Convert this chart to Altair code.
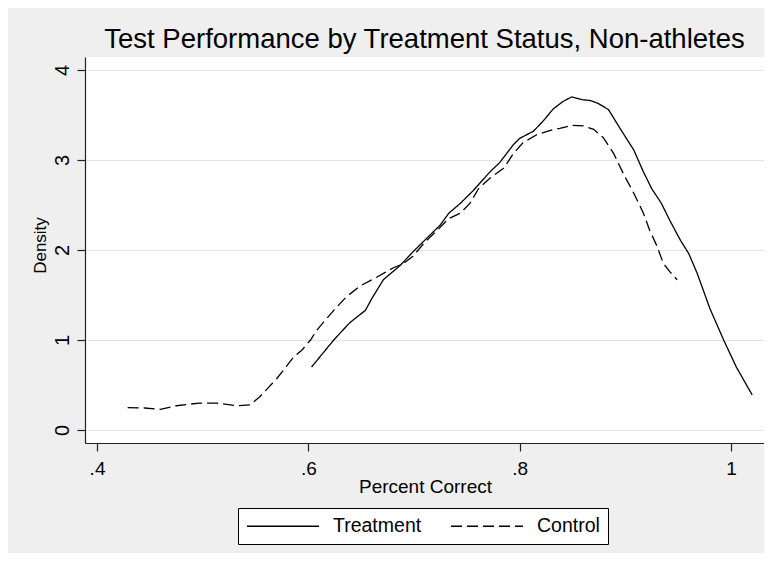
import altair as alt
import pandas as pd

# Kernel density curves
treat_x = [0.603, 0.624, 0.639, 0.654, 0.660, 0.671, 0.687, 0.699, 0.712, 0.725,
           0.733, 0.744, 0.756, 0.772, 0.781, 0.794, 0.800, 0.813, 0.822, 0.832,
           0.841, 0.849, 0.859, 0.867, 0.874, 0.884, 0.895, 0.908, 0.917, 0.925,
           0.934, 0.942, 0.952, 0.960, 0.968, 0.980, 0.993, 1.005, 1.020]
treat_y = [0.70, 1.00, 1.19, 1.33, 1.46, 1.67, 1.83, 1.98, 2.13, 2.28,
           2.41, 2.52, 2.66, 2.87, 2.97, 3.17, 3.24, 3.32, 3.43, 3.57,
           3.65, 3.70, 3.67, 3.66, 3.63, 3.56, 3.35, 3.11, 2.87, 2.68,
           2.52, 2.33, 2.11, 1.96, 1.74, 1.35, 1.00, 0.70, 0.39]

ctrl_x = [0.429, 0.445, 0.460, 0.475, 0.497, 0.513, 0.532, 0.545, 0.554, 0.570,
          0.586, 0.594, 0.602, 0.608, 0.624, 0.636, 0.649, 0.665, 0.680, 0.690,
          0.699, 0.709, 0.722, 0.733, 0.744, 0.753, 0.761, 0.772, 0.785, 0.794,
          0.803, 0.816, 0.829, 0.838, 0.849, 0.860, 0.870, 0.879, 0.889, 0.898,
          0.908, 0.917, 0.923, 0.930, 0.936, 0.942, 0.949]
ctrl_y = [0.25, 0.245, 0.23, 0.27, 0.30, 0.30, 0.27, 0.28, 0.37, 0.57,
          0.81, 0.89, 1.00, 1.11, 1.33, 1.48, 1.60, 1.70, 1.80, 1.85,
          1.93, 2.07, 2.22, 2.35, 2.41, 2.52, 2.68, 2.80, 2.91, 3.07,
          3.19, 3.28, 3.33, 3.35, 3.385, 3.38, 3.34, 3.25, 3.07, 2.85,
          2.63, 2.41, 2.22, 2.04, 1.85, 1.76, 1.67]

groups = ["Treatment", "Control"]
x_ticks = [0.4, 0.6, 0.8, 1.0]
y_ticks = [0, 1, 2, 3, 4]

df = pd.concat([
    pd.DataFrame({"x": treat_x, "y": treat_y, "group": groups[0]}),
    pd.DataFrame({"x": ctrl_x, "y": ctrl_y, "group": groups[1]}),
])

FONT = "Liberation Sans"

chart = alt.Chart(df).mark_line(color="black", strokeWidth=1.3).encode(
    x=alt.X("x:Q",
            scale=alt.Scale(domain=[0.3886, 1.0312], nice=False, zero=False),
            axis=alt.Axis(values=x_ticks, title="Percent Correct",
                          labelExpr="datum.value < 1 ? '.' + format(datum.value*10, '.0f') : format(datum.value, '.0f')",
                          grid=False, tickSize=8, labelPadding=8,
                          labelFontSize=19, titleFontSize=19,
                          titleX=340, titleY=49, titleBaseline="alphabetic",
                          titleFontWeight="normal")),
    y=alt.Y("y:Q",
            scale=alt.Scale(domain=[-0.144, 4.144], nice=False, zero=False),
            axis=alt.Axis(values=y_ticks, title="Density", format="d",
                          grid=True, gridColor="#e4e4e4", gridWidth=1,
                          tickSize=8, labelAngle=-90, labelAlign="center",
                          labelBaseline="alphabetic", labelPadding=9,
                          labelFontSize=20, titleFontSize=17,
                          titleX=-45, titleY=188, titleAngle=-90,
                          titleAlign="center", titleBaseline="middle",
                          titleFontWeight="normal")),
    strokeDash=alt.StrokeDash(
        "group:N",
        scale=alt.Scale(domain=groups, range=[[1, 0], [11, 5]]),
        legend=alt.Legend(title=None, orient="none", legendX=153, legendY=451,
                          direction="horizontal", fillColor="white",
                          strokeColor="black", padding=8,
                          symbolType="M-1,0H7", symbolSize=324,
                          symbolStrokeWidth=1.3, symbolStrokeColor="black",
                          symbolFillColor="transparent",
                          labelFontSize=19.5, labelFont=FONT, labelColor="black",
                          labelOffset=67, columnPadding=26)),
    order="x:Q",
).properties(
    width=679,
    height=386,
    title=alt.TitleParams("Test Performance by Treatment Status, Non-athletes",
                          fontSize=27.5, font=FONT, fontWeight="normal",
                          color="black", anchor="middle", offset=4),
    autosize=alt.AutoSizeParams(type="none"),
    padding={"left": 77, "top": 49, "right": 0, "bottom": 110},
    background="#efefef",
).configure_view(
    fill="white", stroke=None
).configure_axis(
    labelFont=FONT, titleFont=FONT, labelColor="black", titleColor="black",
    domainColor="#222222", tickColor="#222222", domainWidth=1.2, tickWidth=1.2,
)

chart.save("out.html", embed_options={"renderer": "svg", "actions": False})
